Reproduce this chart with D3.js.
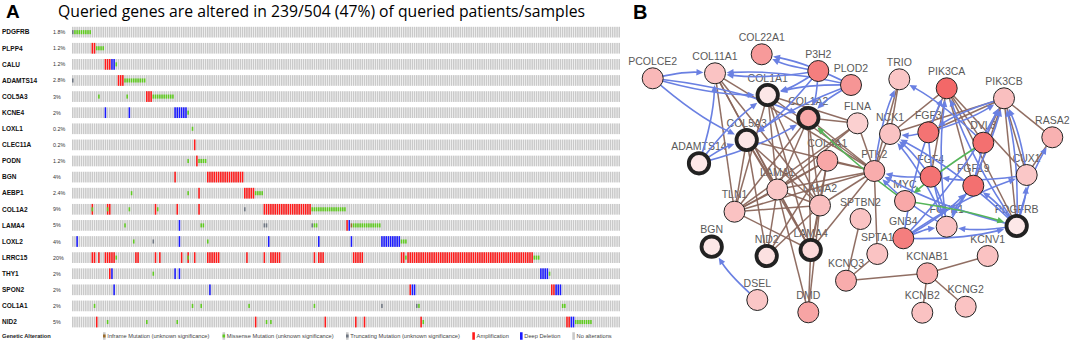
<!DOCTYPE html>
<html><head><meta charset="utf-8">
<script src="https://cdn.jsdelivr.net/npm/d3@7/dist/d3.min.js"></script>
<style>body{margin:0;background:#fff;} svg{display:block;}</style>
</head><body>
<svg id="c" width="1072" height="343"></svg>
<script>
// ---------------- Panel A data (oncoprint) ----------------
const genes = ["PDGFRB","PLPP4","CALU","ADAMTS14","COL5A3","KCNE4","LOXL1","CLEC11A","PODN","BGN","AEBP1","COL1A2","LAMA4","LOXL2","LRRC15","THY1","SPON2","COL1A1","NID2"];
const pctLabels = ["1.8%","1.2%","1.2%","2.8%","3%","2%","0.2%","0.2%","1.2%","4%","2.4%","9%","5%","4%","20%","2%","2%","2%","5%"];
const visibleSamples = 252;
// runs [first, last] of sample columns, one list per gene (same order as genes)
const ampRuns = [
  [], [[9,10]], [[15,17]], [[21,23]], [[34,36]], [], [], [[56,56]], [[57,57]],
  [[47,47],[62,78]], [[58,58],[79,83]],
  [[9,9],[16,17],[38,38],[48,48],[58,58],[88,109]],
  [[126,126]], [],
  [[9,10],[12,12],[15,19],[29,30],[38,38],[40,40],[50,50],[53,53],[56,56],[62,67],[80,80],[88,88],[91,95],[111,111],[113,115],[129,133],[151,152],[154,211]],
  [[17,17]], [[155,155],[220,221]], [],
  [[11,11],[84,84],[116,116],[130,130],[134,134],[160,160],[227,228]]
];
const delRuns = [
  [], [], [[18,19]], [], [], [[15,15],[26,26],[47,52]], [], [], [], [], [], [],
  [[49,49],[127,127]],
  [[2,2],[49,49],[90,90],[113,113],[128,128],[142,150]],
  [], [[18,18],[47,47],[49,49],[215,218]], [[19,19],[63,63],[156,157],[222,224]], [],
  [[229,230]]
];
const missRuns = [
  [[1,8]], [[11,14]], [[20,20]], [[24,33]], [[12,12],[25,25],[37,46]], [[53,53]], [[55,55]], [],
  [[53,53],[58,61]], [], [[27,27],[53,53],[84,87]],
  [[9,9],[16,16],[26,26],[39,39],[110,125]],
  [[24,24],[59,60],[111,112],[129,141]],
  [[28,28],[62,62],[151,153]],
  [[20,20],[53,53],[153,153],[212,214]],
  [[37,37],[219,219]], [],
  [[10,10],[55,55],[59,59],[81,81],[111,111],[159,159],[225,226]],
  [[16,16],[34,34],[48,48],[89,89],[91,91],[161,161],[231,238]]
];
const truncRuns = [
  [[0,0]], [], [], [[0,0]], [], [], [], [], [], [], [], [[79,79]],
  [[88,89],[110,110]], [[37,37]], [], [], [], [[142,142],[158,158]], []
];
const inframeRuns = [
  [], [], [], [], [], [], [], [], [], [], [], [], [[128,128]], [], [], [], [], [], []
];
const legendItems = ["Inframe Mutation (unknown significance)","Missense Mutation (unknown significance)","Truncating Mutation (unknown significance)","Amplification","Deep Deletion","No alterations"];
const legendKinds = ["inframe","missense","trunc","amp","del","none"];

// ---------------- Panel B data (network) ----------------
const nodeNames = ["PCOLCE2","COL11A1","COL22A1","P3H2","PLOD2","TRIO","PIK3CA","PIK3CB","COL1A1","COL1A2","FLNA","NCK1","FGF3","DVL3","RASA2","COL5A3","ADAMTS14","COL4A1","PTK2","FGF4","FGF19","CUX1","LAMA1","LAMA2","TLN1","MYC","SPTBN2","GNB4","FGFR1","PDGFRB","BGN","NID2","LAMA4","SPTA1","KCNV1","KCNAB1","KCNQ3","DSEL","DMD","KCNB2","KCNG2"];
// layout coordinates (network layout units)
const layoutX = [12.7,75,121.7,178.3,211,259.3,306.7,364,127.7,168.3,217.5,250,288.3,343.3,412.3,106.7,59,187.3,234.3,290.7,333.3,386.7,137.3,180,94.5,265,220.5,263.3,306.7,376.7,71.7,126.7,170.7,237.3,347.7,287.3,206,117.3,168.3,282.3,325.7];
const layoutY = [48.3,43.3,24.3,41,55,49.3,58.3,68.3,65,88,93.3,104,102.3,112.7,107.3,110,133.3,130.7,141,146.7,155.7,145,159.5,175.5,181.7,171,189,208.3,196.7,196,216.7,226,220,224,226,243.3,250.7,270,282.3,282.7,276.7];
// alteration frequency of each node (drives fill)
const nodeAlt = [3.8,3.0,5.9,7.8,6.2,2.8,9.4,3.3,0.5,4.9,2.1,3.0,8.6,8.8,4.3,0.5,0.4,5.0,4.6,8.6,8.8,2.7,2.7,3.3,3.1,4.9,3.0,7.8,3.1,0.4,0.5,0.9,1.5,3.0,3.1,4.5,4.6,2.8,5.2,3.1,3.0];
const queriedGenes = ["COL1A1","COL1A2","COL5A3","ADAMTS14","PDGFRB","BGN","NID2","LAMA4"];
const complexEdges = [
  ["COL11A1","LAMA1"],["COL11A1","LAMA2"],["COL11A1","TLN1"],["COL11A1","PTK2"],["COL11A1","LAMA4"],
  ["COL1A1","LAMA1"],["COL1A1","LAMA2"],["COL1A1","PTK2"],["COL1A1","TLN1"],["COL1A1","FLNA"],["COL1A1","LAMA4"],
  ["COL1A2","LAMA1"],["COL1A2","LAMA2"],["COL1A2","PTK2"],["COL1A2","TLN1"],["COL1A2","FLNA"],["COL1A2","LAMA4"],
  ["COL5A3","LAMA1"],["COL5A3","LAMA2"],["COL5A3","PTK2"],["COL5A3","TLN1"],["COL5A3","LAMA4"],["COL5A3","NID2"],
  ["COL4A1","LAMA1"],["COL4A1","LAMA2"],["COL4A1","TLN1"],["COL4A1","PTK2"],["COL4A1","NID2"],["COL4A1","LAMA4"],
  ["FLNA","PTK2"],["FLNA","TLN1"],["FLNA","LAMA1"],
  ["PTK2","TLN1"],["PTK2","LAMA1"],["PTK2","LAMA2"],["PTK2","NCK1"],["PTK2","TRIO"],["PTK2","SPTA1"],["PTK2","LAMA4"],
  ["TLN1","LAMA1"],["TLN1","LAMA2"],["TLN1","LAMA4"],
  ["LAMA1","LAMA2"],["LAMA1","NID2"],["LAMA1","LAMA4"],["LAMA1","DMD"],
  ["LAMA2","NID2"],["LAMA2","LAMA4"],["LAMA2","DMD"],["LAMA4","DMD"],
  ["NCK1","TRIO"],["SPTBN2","KCNQ3"],["SPTA1","KCNQ3"],
  ["KCNAB1","KCNQ3"],["KCNAB1","KCNV1"],["KCNAB1","KCNB2"],["KCNAB1","KCNG2"],
  ["PIK3CA","FGF3"],["PIK3CA","FGF4"],["PIK3CA","FGF19"],["PIK3CA","DVL3"],["PIK3CA","NCK1"],["PIK3CA","CUX1"],["PIK3CA","PDGFRB"],
  ["PIK3CB","FGF3"],["PIK3CB","DVL3"],["PIK3CB","FGF19"],["PIK3CB","CUX1"],["PIK3CB","PDGFRB"],["PIK3CB","RASA2"],["PIK3CB","NCK1"],
  ["RASA2","CUX1"]
];
const stateEdges = [
  ["PCOLCE2","COL11A1"],["PCOLCE2","COL1A1"],["PCOLCE2","COL1A2"],["PCOLCE2","COL5A3"],
  ["P3H2","COL22A1"],["PLOD2","COL22A1"],["P3H2","COL11A1"],["PLOD2","COL11A1"],
  ["P3H2","COL1A1"],["PLOD2","COL1A1"],["P3H2","COL1A2"],["PLOD2","COL1A2"],["P3H2","COL5A3"],["PLOD2","COL5A3"],
  ["ADAMTS14","COL1A1"],["ADAMTS14","COL1A2"],["ADAMTS14","COL5A3"],["ADAMTS14","COL11A1"],
  ["DSEL","BGN"],
  ["FGF3","FGFR1"],["FGF4","FGFR1"],["FGF19","FGFR1"],
  ["FGFR1","PIK3CA"],["FGFR1","PIK3CB"],["FGFR1","PTK2"],["FGFR1","NCK1"],
  ["PDGFRB","PIK3CA"],["PDGFRB","PIK3CB"],["PDGFRB","PTK2"],["PDGFRB","NCK1"],["PDGFRB","RASA2"],["PDGFRB","CUX1"],["PDGFRB","FGFR1"],["PDGFRB","FGF19"],
  ["GNB4","FGFR1"],["GNB4","PIK3CB"],["GNB4","CUX1"],["GNB4","FGF19"],["GNB4","PIK3CA"],["GNB4","PDGFRB"],
  ["FGF3","NCK1"],["FGF4","NCK1"],["FGF4","PTK2"],["FGF3","PIK3CB"],["FGF19","PIK3CB"],
  ["CUX1","PIK3CB"],["CUX1","FGF4"],["DVL3","TRIO"],["PTK2","TRIO"],["PIK3CB","FGF3"]
];
const exprEdges = [["MYC","COL1A2"],["DVL3","MYC"],["MYC","PDGFRB"]];

// ---------------- drawing ----------------
const svg = d3.select("#c");
const FONT = "'Liberation Sans', Arial, sans-serif";

// Panel A
svg.append("text").attr("x",6).attr("y",18).attr("font-family",FONT).attr("font-weight","bold")
  .attr("font-size",19).text("A");
svg.append("text").attr("x",58).attr("y",17).attr("font-family","'Open Sans', sans-serif")
  .attr("font-size",15.5).attr("textLength",527).attr("lengthAdjust","spacingAndGlyphs")
  .text("Queried genes are altered in 239/504 (47%) of queried patients/samples");

const cols = d3.range(visibleSamples);
const x = d3.scaleBand().domain(cols).range([72, 620]).paddingInner(0.3).paddingOuter(0);
const y = d3.scaleBand().domain(genes).range([26.8, 26.8 + 19*15.82]).paddingInner(0.335).paddingOuter(0);
const mutH = y.bandwidth()*0.38;

const colors = {amp:"#ff1a1a", del:"#1a1aff", missense:"#5fcb1f", trunc:"#6e7682", inframe:"#9a6a2a", none:"#c9c9c9"};

const gA = svg.append("g");
genes.forEach((g, gi) => {
  const row = gA.append("g");
  row.selectAll("rect.bg").data(cols).join("rect")
    .attr("x", d => x(d)).attr("y", y(g)).attr("width", x.bandwidth()).attr("height", y.bandwidth())
    .attr("fill", colors.none);
  const expand = runs => runs.flatMap(r => d3.range(r[0], r[1]+1));
  row.selectAll("rect.amp").data(expand(ampRuns[gi])).join("rect")
    .attr("x", d => x(d)).attr("y", y(g)).attr("width", x.bandwidth()).attr("height", y.bandwidth()).attr("fill", colors.amp);
  row.selectAll("rect.del").data(expand(delRuns[gi])).join("rect")
    .attr("x", d => x(d)).attr("y", y(g)).attr("width", x.bandwidth()).attr("height", y.bandwidth()).attr("fill", colors.del);
  [["missense", missRuns],["trunc", truncRuns],["inframe", inframeRuns]].forEach(([k, arr]) => {
    row.selectAll("rect."+k).data(expand(arr[gi])).join("rect")
      .attr("x", d => x(d)).attr("y", y(g) + (y.bandwidth()-mutH)/2).attr("width", x.bandwidth()).attr("height", mutH)
      .attr("fill", colors[k]);
  });
  const cy = y(g) + y.bandwidth()/2;
  gA.append("text").attr("x", 2).attr("y", cy + 2.3).attr("font-family", FONT).attr("font-weight","bold")
    .attr("font-size", 6.5).attr("fill","#111").text(g);
  gA.append("text").attr("x", 53).attr("y", cy + 2).attr("font-family", FONT)
    .attr("font-size", 5.4).attr("fill","#333").text(pctLabels[gi]);
});

// legend
const legY = 336;
svg.append("text").attr("x",2).attr("y",legY+2).attr("font-family",FONT).attr("font-weight","bold")
  .attr("font-size",5.7).attr("fill","#222").text("Genetic Alteration");
const legX = [103, 222.5, 346, 472.3, 520, 572.3];
legendItems.forEach((t, i) => {
  const k = legendKinds[i];
  const sx = legX[i], sw = 2.6, sh = 7.5;
  const full = (k==="amp"||k==="del"||k==="none");
  svg.append("rect").attr("x",sx).attr("y",legY-sh/2).attr("width",sw).attr("height",sh)
    .attr("fill", full ? colors[k] : colors.none);
  if (!full) svg.append("rect").attr("x",sx).attr("y",legY-1.5).attr("width",sw).attr("height",3).attr("fill",colors[k]);
  svg.append("text").attr("x",sx+4.3).attr("y",legY+2).attr("font-family",FONT).attr("font-size",5.7)
    .attr("fill","#444").text(t);
});

// Panel B
svg.append("text").attr("x",633).attr("y",19.3).attr("font-family",FONT).attr("font-weight","bold")
  .attr("font-size",20).text("B");

const nx = d3.scaleLinear().domain([0, 430]).range([640, 1070]);
const ny = d3.scaleLinear().domain([0, 300]).range([30, 330]);
const fill = d3.scaleLinear().domain([0, 10]).range(["#fdeeee","#f25f5f"]);
const nodes = nodeNames.map((n, i) => ({name:n, x:nx(layoutX[i]), y:ny(layoutY[i]), alt:nodeAlt[i], q:queriedGenes.includes(n)}));
const byName = Object.fromEntries(nodes.map(n => [n.name, n]));
const R = 10.5;
const outer = n => n.q ? R + 2 : R + 0.6;

const gB = svg.append("g");
// labels (behind edges)
gB.selectAll("text.lbl").data(nodes).join("text")
  .attr("x", d => d.x).attr("y", d => d.y - 13.3).attr("text-anchor","middle")
  .attr("font-family", FONT).attr("font-size", 10.5).attr("fill","#5a5a5a").text(d => d.name);

// complex edges (straight)
gB.selectAll("line.cx").data(complexEdges).join("line")
  .attr("x1", d => byName[d[0]].x).attr("y1", d => byName[d[0]].y)
  .attr("x2", d => byName[d[1]].x).attr("y2", d => byName[d[1]].y)
  .attr("stroke","#8a665b").attr("stroke-width",1.5).attr("stroke-opacity",0.95);

function arrowEdges(list, color, curv) {
  const g = gB.append("g");
  list.forEach(([a, b], i) => {
    const s = byName[a], t = byName[b];
    const dx = t.x - s.x, dy = t.y - s.y;
    const c = curv * (i % 2 ? 1 : -1);
    const cx = (s.x + t.x)/2 - dy * c, cy = (s.y + t.y)/2 + dx * c;
    const ux = t.x - cx, uy = t.y - cy, ul = Math.hypot(ux, uy);
    const ex = ux/ul, ey = uy/ul;
    const tipD = outer(t) + 0.5, AL = 7, AW = 3.2;
    const tipX = t.x - ex*tipD, tipY = t.y - ey*tipD;
    const bx = tipX - ex*AL, by = tipY - ey*AL;
    g.append("path").attr("d", `M${s.x},${s.y} Q${cx},${cy} ${bx + ex*1},${by + ey*1}`)
      .attr("fill","none").attr("stroke",color).attr("stroke-width",1.6);
    g.append("path").attr("d", `M${tipX},${tipY} L${bx - ey*AW},${by + ex*AW} L${bx + ey*AW},${by - ex*AW} Z`)
      .attr("fill",color);
  });
}
arrowEdges(stateEdges, "#6a80e2", 0.07);
arrowEdges(exprEdges, "#55b559", 0.04);

// nodes
gB.selectAll("circle.nd").data(nodes).join("circle")
  .attr("cx", d => d.x).attr("cy", d => d.y).attr("r", d => d.q ? R - 0.3 : R)
  .attr("fill", d => fill(d.alt)).attr("stroke", "#222")
  .attr("stroke-width", d => d.q ? 3.8 : 1);
</script>
</body></html>
